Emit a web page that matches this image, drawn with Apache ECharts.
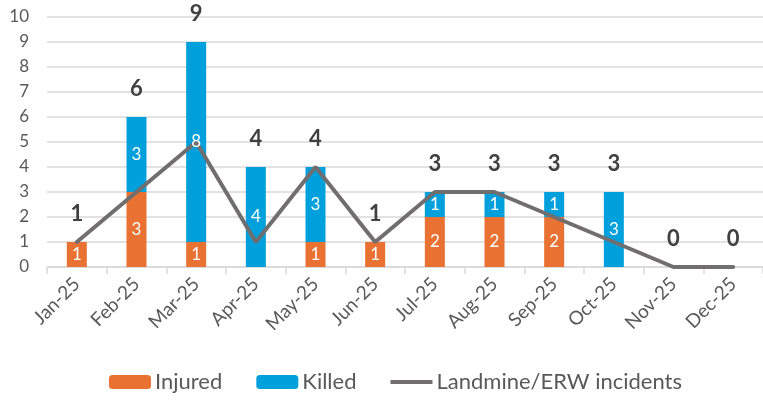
<!DOCTYPE html>
<html>
<head>
<meta charset="utf-8">
<script src="https://cdn.jsdelivr.net/npm/echarts@6/dist/echarts.min.js"></script>
<style>
  html, body { margin: 0; padding: 0; background: #fff; }
  #chart { width: 763px; height: 402px; }
</style>
</head>
<body>
<div id="chart"></div>
<script>
// data
const months = ["Jan-25", "Feb-25", "Mar-25", "Apr-25", "May-25", "Jun-25",
  "Jul-25", "Aug-25", "Sep-25", "Oct-25", "Nov-25", "Dec-25"];
const injured = [1, 3, 1, 0, 1, 1, 2, 2, 2, 0, 0, 0];
const killed = [0, 3, 8, 4, 3, 0, 1, 1, 1, 3, 0, 0];
const incidents = [1, 3, 5, 1, 4, 1, 3, 3, 2, 1, 0, 0];
const totals = [1, 6, 9, 4, 4, 1, 3, 3, 3, 3, 0, 0];

const font = "Lato, 'Open Sans', sans-serif";

// segment labels sit in the middle of each stacked piece, drawn above the line
const injuredMid = injured.map((v, i) => [i, v / 2, v]);
const killedMid = killed.map((v, i) => [i, injured[i] + v / 2, v]);

const segLabel = {
  show: true,
  position: "inside",
  color: "#fff",
  fontSize: 17,
  fontFamily: font,
  opacity: 1,
  formatter: p => (p.value[2] ? p.value[2] : "")
};

let chart = echarts.init(document.getElementById("chart"));
chart.setOption({
  animation: false,
  grid: { left: 47, right: -7, top: 17, bottom: 135 },
  legend: {
    data: [
      { name: "Injured" },
      { name: "Killed" },
      { name: "Landmine/ERW incidents", icon: "path://M0,0 L44,0 L44,4 L0,4 Z" }
    ],
    bottom: 4,
    left: 104,
    itemWidth: 42,
    itemHeight: 14,
    itemGap: 34,
    textStyle: { fontSize: 22, color: "#595959", fontFamily: font, padding: [0, 0, 0, -1] }
  },
  xAxis: {
    type: "category",
    data: months,
    axisLine: { lineStyle: { color: "#d9d9d9", width: 1.5 } },
    axisTick: { show: true, length: 7, lineStyle: { color: "#d9d9d9", width: 1.5 } },
    axisLabel: {
      rotate: 45, fontSize: 19, color: "#595959", fontFamily: font, margin: 14, interval: 0
    }
  },
  yAxis: {
    type: "value",
    min: 0,
    max: 10,
    interval: 1,
    axisLine: { show: false },
    axisTick: { show: false },
    splitLine: { lineStyle: { color: "#d9d9d9", width: 1.5 } },
    axisLabel: { fontSize: 17, color: "#595959", fontFamily: font, margin: 18 }
  },
  series: [
    {
      name: "Injured",
      type: "bar",
      stack: "people",
      data: injured,
      barWidth: 20,
      itemStyle: { color: "#E97132" }
    },
    {
      name: "Killed",
      type: "bar",
      stack: "people",
      data: killed,
      barWidth: 20,
      itemStyle: { color: "#00A0DC" }
    },
    {
      name: "Landmine/ERW incidents",
      type: "line",
      data: incidents,
      symbol: "none",
      lineStyle: { color: "#706e6e", width: 4, cap: "round" },
      itemStyle: { color: "#706e6e" },
      z: 3
    },
    {
      name: "injuredLabels",
      type: "scatter",
      data: injuredMid,
      symbolSize: 1,
      itemStyle: { color: "rgba(0,0,0,0)", opacity: 1 },
      label: segLabel,
      z: 5
    },
    {
      name: "killedLabels",
      type: "scatter",
      data: killedMid,
      symbolSize: 1,
      itemStyle: { color: "rgba(0,0,0,0)", opacity: 1 },
      label: segLabel,
      z: 5
    },
    {
      name: "Total",
      type: "scatter",
      data: totals,
      symbolSize: 1,
      itemStyle: { color: "rgba(0,0,0,0)", opacity: 1 },
      label: {
        show: true,
        position: "top",
        distance: 17,
        fontSize: 22,
        fontWeight: "bold",
        color: "#404040",
        opacity: 1,
        fontFamily: font
      },
      z: 6
    }
  ]
});
</script>
</body>
</html>
